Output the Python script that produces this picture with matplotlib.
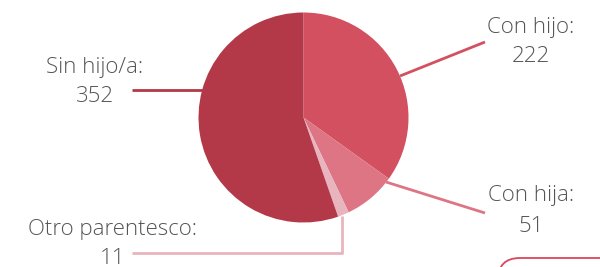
import matplotlib
matplotlib.use("Agg")
import matplotlib.pyplot as plt
from matplotlib.patches import FancyBboxPatch

categories = ["Con hijo", "Con hija", "Otro parentesco", "Sin hijo/a"]
values = [222, 51, 11, 352]
colors = ["#D35060", "#DE7585", "#E8B4BD", "#B33848"]

W, H = 600, 267
fig = plt.figure(figsize=(6, 2.67), dpi=100)
ax = fig.add_axes([0, 0, 1, 1])

def Y(y):
    return H - y

cx, cy, r = 303.5, Y(117.5), 105
ax.pie(values, colors=colors, startangle=90, counterclock=False,
       center=(cx, cy), radius=r, frame=True,
       wedgeprops=dict(linewidth=0))
ax.set_xlim(0, W)
ax.set_ylim(0, H)
ax.set_aspect("equal")
ax.axis("off")

font = dict(family=["Open Sans", "DejaVu Sans"], fontsize=16, color="#555555",
            fontweight="light", ha="center", va="center")

# leader lines (layout)
leaders = [
    [(400, 76), (485, 42)],
    [(386, 182), (485, 213)],
    [(342, 216), (342, 253), (132, 253)],
    [(203, 90), (132, 90)],
]
label_pos = [(531, 27, 56), (531, 196, 226), (113, 230, 258), (95, 67, 97)]

for cat, val, col, pts, (lx, ly1, ly2) in zip(categories, values, colors, leaders, label_pos):
    xs = [p[0] for p in pts]
    ys = [Y(p[1]) for p in pts]
    ax.plot(xs, ys, color=col, lw=2, solid_capstyle="butt")
    ax.text(lx, Y(ly1), f"{cat}:", **font)
    ax.text(lx, Y(ly2), f"{val}", **font)

# decorative rounded box at bottom right
box = FancyBboxPatch((498, Y(258) - 60), 160, 60, boxstyle="round,pad=0,rounding_size=22",
                     fill=False, edgecolor="#D9475A", lw=1.3, clip_on=True)
ax.add_patch(box)

fig.savefig("out.png", dpi=100)
